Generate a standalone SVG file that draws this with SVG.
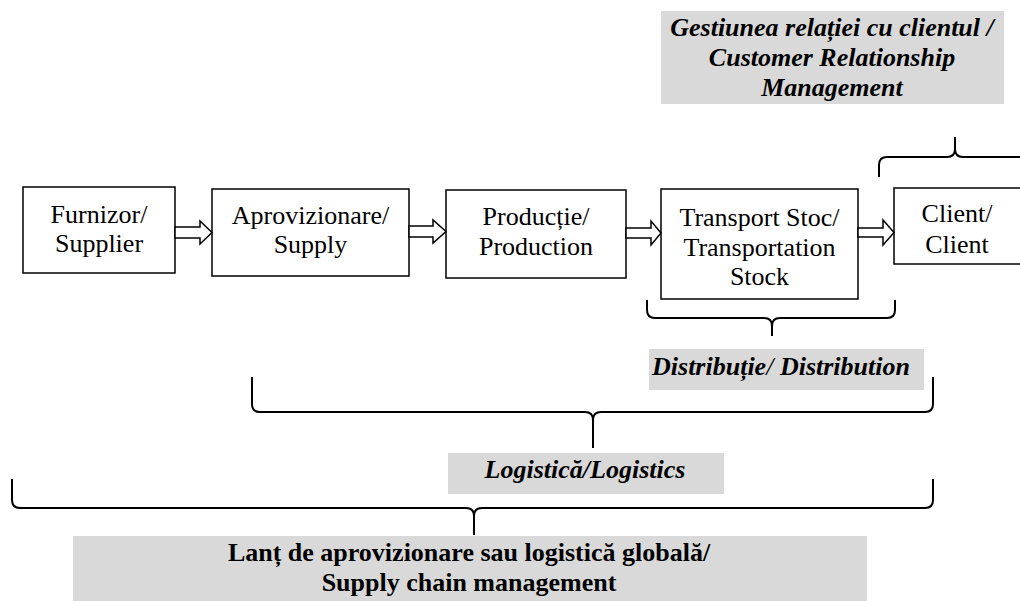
<svg xmlns="http://www.w3.org/2000/svg" width="1020" height="601" viewBox="0 0 1020 601">
<style>
.box{fill:#fff;stroke:#000;stroke-width:1.5}
.t{font-family:"Liberation Serif","Times New Roman",serif;font-size:26px;fill:#000;text-anchor:middle}
.lbl{fill:#d9d9d9;stroke:none}
.bi{font-family:"Liberation Serif","Times New Roman",serif;font-size:26px;font-weight:bold;font-style:italic;fill:#000;text-anchor:middle}
.b{font-family:"Liberation Serif","Times New Roman",serif;font-size:26px;font-weight:bold;fill:#000;text-anchor:middle}
.arr{fill:#fff;stroke:#000;stroke-width:1.5;stroke-linejoin:miter}
.brace{fill:none;stroke:#000;stroke-width:2}
</style>
<rect width="1020" height="601" fill="#fff"/>
<g id="crm-label">
<rect class="lbl" x="661" y="11" width="343" height="93"/>
<text class="bi" x="832" y="36">Gestiunea relației cu clientul /</text>
<text class="bi" x="832" y="66">Customer Relationship</text>
<text class="bi" x="832" y="96">Management</text>
</g>
<g id="furnizor">
<rect class="box" x="23" y="187" width="152" height="86"/>
<text class="t" x="99" y="223">Furnizor/</text>
<text class="t" x="99" y="252">Supplier</text>
</g>
<g id="aprovizionare">
<rect class="box" x="212" y="189" width="197" height="87"/>
<text class="t" x="310.5" y="224">Aprovizionare/</text>
<text class="t" x="310.5" y="253">Supply</text>
</g>
<g id="productie">
<rect class="box" x="446" y="190" width="180" height="88"/>
<text class="t" x="536" y="225">Producție/</text>
<text class="t" x="536" y="255">Production</text>
</g>
<g id="transport">
<rect class="box" x="661" y="189" width="197" height="110"/>
<text class="t" x="759.5" y="226">Transport Stoc/</text>
<text class="t" x="759.5" y="256">Transportation</text>
<text class="t" x="759.5" y="285">Stock</text>
</g>
<g id="client">
<rect class="box" x="894" y="188" width="130" height="76"/>
<text class="t" x="957" y="222">Client/</text>
<text class="t" x="957" y="253">Client</text>
</g>
<g id="distributie-label">
<rect class="lbl" x="649" y="349" width="275" height="41"/>
<text class="bi" x="781" y="375">Distribuție<tspan font-weight="normal">/</tspan> Distribution</text>
</g>
<g id="logistica-label">
<rect class="lbl" x="448" y="453" width="276" height="41"/>
<text class="bi" x="585" y="478">Logistică/Logistics</text>
</g>
<g id="scm-label">
<rect class="lbl" x="73" y="536" width="794" height="70"/>
<text class="b" x="469" y="561">Lanț de aprovizionare sau logistică globală/</text>
<text class="b" x="469" y="591">Supply chain management</text>
</g>
<g id="connectors">
<polygon class="arr" points="175,227 200,227 200,221 212,232.5 200,244 200,238 175,238"/>
<polygon class="arr" points="409,226 433,226 433,220 446,231.5 433,243 433,237 409,237"/>
<polygon class="arr" points="626,228 651,228 651,221 661,233 651,245 651,238 626,238"/>
<polygon class="arr" points="858,228 883,228 883,220 894,232.5 883,245 883,237 858,237"/>
<path class="brace" d="M879,177 L879,165 Q879,157 887,157 L947,157 Q955,157 955,149 L955,137 L955,149 Q955,157 963,157 L1025,157"/>
<path class="brace" d="M647,300 L647,310 Q647,318 655,318 L764,318 Q772,318 772,326 L772,336 L772,326 Q772,318 780,318 L887,318 Q895,318 895,310 L895,300"/>
<path class="brace" d="M252,377 L252,404 Q252,412 260,412 L585,412 Q593,412 593,420 L593,448 L593,420 Q593,412 601,412 L925,412 Q933,412 933,404 L933,377"/>
<path class="brace" d="M12,479 L12,500 Q12,508 20,508 L466,508 Q474,508 474,516 L474,535 L474,516 Q474,508 482,508 L925,508 Q933,508 933,500 L933,479"/>
</g>
</svg>
